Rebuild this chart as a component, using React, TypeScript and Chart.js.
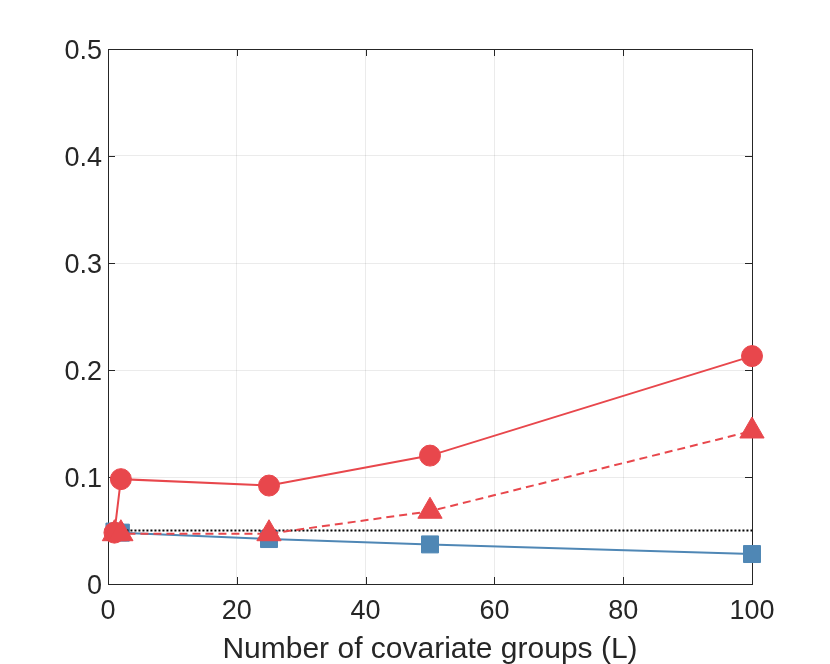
import React, { useEffect, useRef } from "react";
import { Chart, registerables } from "chart.js";

Chart.register(...registerables);

const xGroups = [1, 2, 25, 50, 100];
const circleSeries = [0.048, 0.098, 0.092, 0.12, 0.213];
const triangleSeries = [0.047, 0.047, 0.047, 0.068, 0.143];
const squareSeries = [0.049, 0.048, 0.042, 0.037, 0.028];
const nominalX = [1, 100];
const nominalY = [0.05, 0.05];
const xTicks = [0, 20, 40, 60, 80, 100];
const yTicks = [0, 0.1, 0.2, 0.3, 0.4, 0.5];

const RED = "#e8474c";
const BLUE = "#4f87b5";
const INK = "#262626";
const FONT = "'Liberation Sans', Arial, Helvetica, sans-serif";

const toPts = (xs: number[], ys: number[]) => xs.map((x, i) => ({ x, y: ys[i] }));

const boxPlugin = {
  id: "boxTicks",
  beforeDatasetsDraw(chart: any) {
    const { ctx, chartArea: a, scales } = chart;
    ctx.save();
    ctx.strokeStyle = INK;
    ctx.lineWidth = 1;
    ctx.strokeRect(a.left + 0.5, a.top + 0.5, a.right - a.left, a.bottom - a.top);
    const L = 7;
    ctx.beginPath();
    xTicks.forEach((v) => {
      const px = Math.round(scales.x.getPixelForValue(v)) + 0.5;
      ctx.moveTo(px, a.bottom);
      ctx.lineTo(px, a.bottom - L);
      ctx.moveTo(px, a.top);
      ctx.lineTo(px, a.top + L);
    });
    yTicks.forEach((v) => {
      const py = Math.round(scales.y.getPixelForValue(v)) + 0.5;
      ctx.moveTo(a.left, py);
      ctx.lineTo(a.left + L, py);
      ctx.moveTo(a.right, py);
      ctx.lineTo(a.right - L, py);
    });
    ctx.stroke();
    ctx.restore();
  },
};

export default function App() {
  const ref = useRef<HTMLCanvasElement | null>(null);
  useEffect(() => {
    if (!ref.current) return;
    const chart = new Chart(ref.current, {
      type: "scatter",
      data: {
        datasets: [
          {
            label: "triangle",
            data: toPts(xGroups, triangleSeries),
            showLine: true,
            borderColor: RED,
            backgroundColor: RED,
            borderWidth: 2,
            borderDash: [8, 5],
            pointStyle: "triangle",
            pointRadius: 14,
            pointBorderWidth: 1,
            pointHoverRadius: 14,
            order: 1,
            clip: false,
          } as any,
          {
            label: "circle",
            data: toPts(xGroups, circleSeries),
            showLine: true,
            borderColor: RED,
            backgroundColor: RED,
            borderWidth: 2,
            pointStyle: "circle",
            pointRadius: 10.5,
            pointBorderWidth: 1,
            pointHoverRadius: 10.5,
            order: 2,
            clip: false,
          } as any,
          {
            label: "nominal",
            data: toPts(nominalX, nominalY),
            showLine: true,
            borderColor: "#000000",
            borderWidth: 2.2,
            borderDash: [2, 2],
            pointRadius: 0,
            order: 3,
            clip: false,
          } as any,
          {
            label: "square",
            data: toPts(xGroups, squareSeries),
            showLine: true,
            borderColor: BLUE,
            backgroundColor: BLUE,
            borderWidth: 2,
            pointStyle: "rect",
            pointRadius: 12,
            pointBorderWidth: 1,
            pointHoverRadius: 12,
            order: 4,
            clip: false,
          } as any,
        ],
      },
      options: {
        animation: false,
        responsive: false,
        devicePixelRatio: 1,
        layout: { padding: { top: 49, right: 78, left: 0, bottom: 0 } },
        plugins: { legend: { display: false }, tooltip: { enabled: false } },
        scales: {
          x: {
            type: "linear",
            min: 0,
            max: 100,
            afterBuildTicks: (s: any) => {
              s.ticks = xTicks.map((v) => ({ value: v }));
            },
            afterFit: (s: any) => {
              s.height = 80;
            },
            grid: { color: "rgba(0,0,0,0.08)", drawTicks: false },
            border: { display: false },
            ticks: {
              color: INK,
              font: { family: FONT, size: 27 },
              padding: 11,
              maxRotation: 0,
            },
            title: {
              display: true,
              text: "Number of covariate groups (L)",
              color: INK,
              font: { family: FONT, size: 30 },
              padding: { top: 0, bottom: -4 },
            },
          },
          y: {
            type: "linear",
            min: 0,
            max: 0.5,
            afterBuildTicks: (s: any) => {
              s.ticks = yTicks.map((v) => ({ value: v }));
            },
            afterFit: (s: any) => {
              s.width = 108;
            },
            grid: { color: "rgba(0,0,0,0.08)", drawTicks: false },
            border: { display: false },
            ticks: {
              color: INK,
              font: { family: FONT, size: 27 },
              padding: 6,
              labelOffset: 3,
              callback: (v: any) => String(Math.round(Number(v) * 10) / 10),
            },
          },
        },
      },
      plugins: [boxPlugin],
    });
    return () => chart.destroy();
  }, []);
  return (
    <div style={{ position: "absolute", left: 0, top: 0, width: 830, height: 664, background: "#fff" }}>
      <canvas ref={ref} width={830} height={664} />
    </div>
  );
}
